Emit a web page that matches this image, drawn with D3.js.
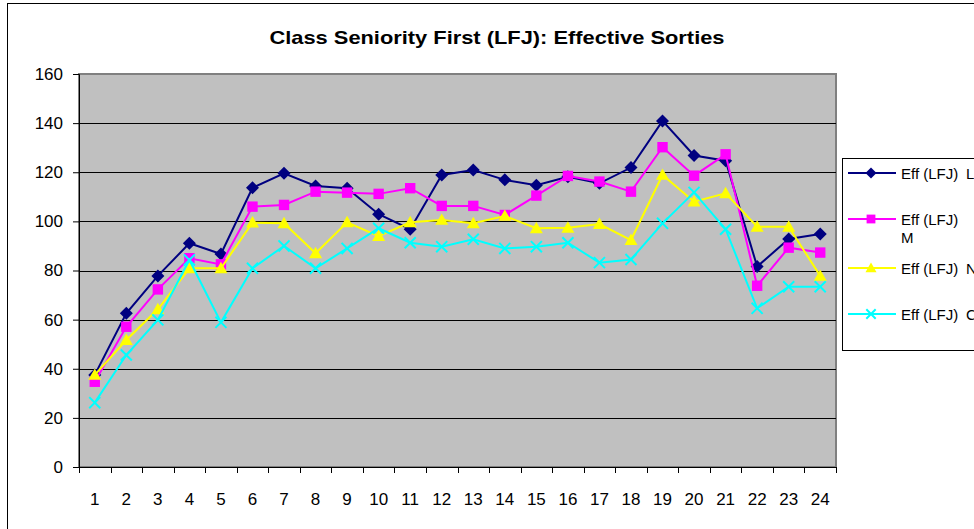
<!DOCTYPE html>
<html>
<head>
<meta charset="utf-8">
<script src="https://cdn.jsdelivr.net/npm/d3@7"></script>
<style>
  html, body { margin: 0; padding: 0; background: #fff; overflow: hidden; }
  svg { display: block; font-family: "Liberation Sans", Arial, sans-serif; }
</style>
</head>
<body>
<div id="chart"></div>
<script>
// Data
const categories = d3.range(1, 25).map(String);
const seriesNames = ['Eff (LFJ) L', 'Eff (LFJ) M', 'Eff (LFJ) N', 'Eff (LFJ) C'];
const effL = [37.5, 62.6, 77.8, 91.1, 86.7, 113.7, 119.6, 114.4, 113.5, 102.9, 96.8, 118.9, 120.9, 116.9, 114.7, 118.2, 115.5, 121.9, 140.9, 126.8, 124.7, 81.6, 92.8, 94.9];
const effM = [34.7, 57.1, 72.3, 85.0, 82.5, 106.0, 106.7, 112.1, 111.7, 111.2, 113.5, 106.3, 106.3, 102.6, 110.5, 118.5, 116.2, 112.1, 130.2, 118.6, 127.3, 73.8, 89.3, 87.3];
const effN = [37.5, 51.7, 64.2, 80.9, 80.9, 99.5, 99.2, 87.0, 99.6, 94.0, 99.6, 100.6, 99.2, 102.2, 97.2, 97.4, 98.9, 92.4, 118.9, 108.0, 111.4, 97.8, 97.8, 77.8];
const effC = [26.2, 45.6, 59.9, 84.3, 58.9, 80.9, 90.0, 80.9, 89.0, 97.2, 91.3, 89.7, 92.7, 89.0, 89.7, 91.3, 83.2, 84.5, 99.2, 111.8, 96.8, 64.6, 73.4, 73.4];
const yTicks = [0, 20, 40, 60, 80, 100, 120, 140, 160];

const series = [
  { name: seriesNames[0], values: effL, color: '#000080', marker: 'diamond' },
  { name: seriesNames[1], values: effM, color: '#FF00FF', marker: 'square' },
  { name: seriesNames[2], values: effN, color: '#FFFF00', marker: 'triangle' },
  { name: seriesNames[3], values: effC, color: '#00FFFF', marker: 'cross' }
];

const W = 974, H = 529;
const plot = { left: 79, top: 74, right: 836, bottom: 467 };

const svg = d3.select('#chart').append('svg')
  .attr('width', W)
  .attr('height', H);

// Outer chart frame (runs past the visible window, as in the reference)
svg.append('rect')
  .attr('x', 7.5).attr('y', 3.5)
  .attr('width', 1100).attr('height', 600)
  .attr('fill', '#fff')
  .attr('stroke', '#000').attr('stroke-width', 1);

// Title
svg.append('text')
  .attr('x', 497).attr('y', 44)
  .attr('text-anchor', 'middle')
  .attr('font-size', 19).attr('font-weight', 'bold')
  .attr('textLength', 455).attr('lengthAdjust', 'spacingAndGlyphs')
  .text('Class Seniority First (LFJ): Effective Sorties');

const x = d3.scaleBand().domain(categories).range([plot.left, plot.right]);
const y = d3.scaleLinear().domain([0, 160]).range([plot.bottom, plot.top]);

// Plot area background
svg.append('rect')
  .attr('x', plot.left).attr('y', plot.top)
  .attr('width', plot.right - plot.left).attr('height', plot.bottom - plot.top)
  .attr('fill', '#C0C0C0')
  .attr('stroke', '#808080').attr('stroke-width', 2);

// Gridlines
svg.append('g')
  .selectAll('line')
  .data(yTicks.filter(d => d > 0 && d < 160))
  .join('line')
  .attr('x1', plot.left).attr('x2', plot.right)
  .attr('y1', d => Math.round(y(d)) + 0.5).attr('y2', d => Math.round(y(d)) + 0.5)
  .attr('stroke', '#000').attr('stroke-width', 1);

// Y axis
const yAxis = svg.append('g')
  .attr('transform', `translate(${plot.left},0)`)
  .call(d3.axisLeft(y).tickValues(yTicks).tickSize(6).tickPadding(10));
yAxis.select('.domain').attr('stroke', '#000');
yAxis.selectAll('.tick line').attr('stroke', '#000');
yAxis.selectAll('text').attr('font-size', 17).attr('fill', '#000')
  .attr('font-family', '"Liberation Sans", Arial, sans-serif');

// X axis: ticks sit between categories
const xAxis = svg.append('g')
  .attr('transform', `translate(0,${plot.bottom})`)
  .call(d3.axisBottom(x).tickSize(0).tickPadding(26));
xAxis.select('.domain').attr('stroke', '#000');
xAxis.selectAll('text').attr('font-size', 17).attr('fill', '#000')
  .attr('font-family', '"Liberation Sans", Arial, sans-serif');
xAxis.selectAll('.boundary')
  .data(categories.concat(['end']))
  .join('line')
  .attr('class', 'boundary')
  .attr('x1', (d, i) => Math.round(plot.left + i * x.bandwidth()) + 0.5)
  .attr('x2', (d, i) => Math.round(plot.left + i * x.bandwidth()) + 0.5)
  .attr('y1', 0).attr('y2', 6)
  .attr('stroke', '#000');

// Markers
function drawMarker(g, type, color, size) {
  if (type === 'diamond') {
    g.append('path').attr('d', `M0,${-size}L${size},0L0,${size}L${-size},0Z`).attr('fill', color);
  } else if (type === 'square') {
    g.append('rect').attr('x', -size * 0.8).attr('y', -size * 0.8)
      .attr('width', size * 1.6).attr('height', size * 1.6).attr('fill', color);
  } else if (type === 'triangle') {
    g.append('path').attr('d', `M0,${-size}L${size},${size * 0.75}L${-size},${size * 0.75}Z`).attr('fill', color);
  } else {
    const s = size * 0.85;
    g.append('path').attr('d', `M${-s},${-s}L${s},${s}M${-s},${s}L${s},${-s}`)
      .attr('stroke', color).attr('stroke-width', 2).attr('fill', 'none');
  }
}

const line = d3.line()
  .x((d, i) => x(categories[i]) + x.bandwidth() / 2)
  .y(d => y(d));

series.forEach(s => {
  svg.append('path')
    .datum(s.values)
    .attr('d', line)
    .attr('fill', 'none')
    .attr('stroke', s.color)
    .attr('stroke-width', 2);
  const mg = svg.append('g');
  s.values.forEach((v, i) => {
    const g = mg.append('g')
      .attr('transform', `translate(${x(categories[i]) + x.bandwidth() / 2},${y(v)})`);
    drawMarker(g, s.marker, s.color, 6.5);
  });
});

// Legend (cut off by the right edge, as in the reference)
const legend = svg.append('g');
legend.append('rect')
  .attr('x', 842.5).attr('y', 158.5)
  .attr('width', 300).attr('height', 192)
  .attr('fill', '#fff')
  .attr('stroke', '#000').attr('stroke-width', 1);

const legendRows = [173, 219, 268, 314];
series.forEach((s, i) => {
  const ly = legendRows[i];
  legend.append('line')
    .attr('x1', 848).attr('x2', 896)
    .attr('y1', ly).attr('y2', ly)
    .attr('stroke', s.color).attr('stroke-width', 2);
  const g = legend.append('g').attr('transform', `translate(871,${ly})`);
  drawMarker(g, s.marker, s.color, 5.5);
  const prefix = 'Eff (LFJ)';
  const suffix = s.name.replace(prefix + ' ', '');
  legend.append('text')
    .attr('x', 901).attr('y', ly + 6)
    .attr('font-size', 15).attr('fill', '#000')
    .text(prefix);
  if (i === 1) {
    // this entry wraps onto a second line
    legend.append('text')
      .attr('x', 901).attr('y', ly + 24)
      .attr('font-size', 15).attr('fill', '#000')
      .text(suffix);
  } else {
    legend.append('text')
      .attr('x', 966).attr('y', ly + 6)
      .attr('font-size', 15).attr('fill', '#000')
      .text(suffix);
  }
});
</script>
</body>
</html>
